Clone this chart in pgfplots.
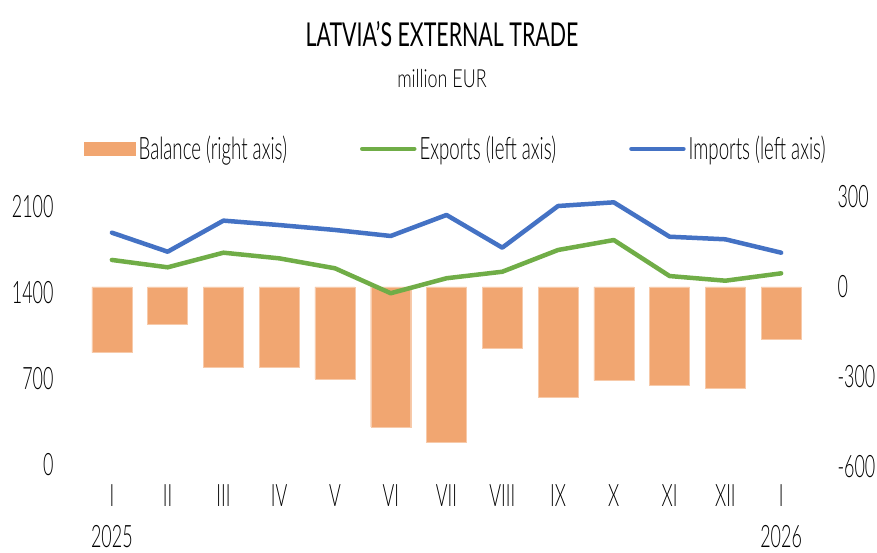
\documentclass[border=0pt]{standalone}
\usepackage{pgfplots}
\pgfplotsset{compat=1.18}
\usepackage{fontspec}
\setmainfont{Lato}[UprightFont=* Light, BoldFont=* Bold, FakeStretch=0.58]
\newfontfamily\titlefont{Lato}[FakeStretch=0.65]
\newfontfamily\subfont{Lato Light}[FakeStretch=0.72]
\newfontfamily\legfont{Lato Light}[FakeStretch=0.605]
\definecolor{balc}{RGB}{241,166,113}
\definecolor{expc}{RGB}{112,173,71}
\definecolor{impc}{RGB}{68,114,196}
\begin{document}
\begin{tikzpicture}[x=1bp,y=1bp]
\path[use as bounding box] (0,0) rectangle (877,553);
\node[font=\fontsize{33}{40}\titlefont] at (442,519) {LATVIA’S EXTERNAL TRADE};
\node[font=\fontsize{25}{30}\subfont] at (442,474) {million EUR};
\begin{axis}[at={(84bp,86bp)}, anchor=south west, scale only axis, width=725bp, height=270bp,
 xmin=-0.5, xmax=12.5, ymin=-600, ymax=300,
 axis line style={draw=none}, major tick length=0,
 ytick={-600,-300,0,300}, yticklabels={-600,-300,0,300}, yticklabel pos=right,
 xtick={0,...,12}, xticklabels={{I\\[5bp]2025},II,III,IV,V,VI,VII,VIII,IX,X,XI,XII,{I\\[5bp]2026}},
 xticklabel style={align=center, anchor=north, yshift=-14bp},
 yticklabel style={xshift=25bp},
 ticklabel style={font=\fontsize{31}{36}\selectfont},
]
\addplot[ybar, bar width=40bp, fill=balc, draw=balc!60!white] coordinates {
(0,-219) (1,-123) (2,-266) (3,-269) (4,-307) (5,-466) (6,-516) (7,-204) (8,-366) (9,-312) (10,-327) (11,-338) (12,-173)};
\end{axis}
\begin{axis}[at={(84bp,88bp)}, anchor=south west, scale only axis, width=725bp, height=258bp,
 xmin=-0.5, xmax=12.5, ymin=0, ymax=2100,
 axis line style={draw=none}, major tick length=0, clip=false,
 ytick={0,700,1400,2100}, yticklabels={0,700,1400,2100}, yticklabel pos=left,
 xtick=\empty,
 yticklabel style={xshift=-27bp},
 ticklabel style={font=\fontsize{31}{36}\selectfont},
 legend columns=3,
 legend style={draw=none, fill=none, at={(0,1.225)}, anchor=west, inner sep=0pt,
   font=\fontsize{31}{36}\legfont,
   nodes={inner sep=3bp},
   /tikz/every even column/.append style={column sep=70bp}},
]
\addlegendimage{legend image code/.code={\fill[balc] (0bp,-6.5bp) rectangle (51bp,6.5bp);}}
\addlegendentry{Balance (right axis)}
\addlegendimage{legend image code/.code={\draw[expc, line width=4.5bp, line cap=round] (2bp,0bp) -- (54bp,0bp);}}
\addlegendentry{Exports (left axis)}
\addlegendimage{legend image code/.code={\draw[impc, line width=4.5bp, line cap=round] (2bp,0bp) -- (54bp,0bp);}}
\addlegendentry{Imports (left axis)}
\addplot[expc, line width=4.5bp, line join=round, line cap=round, forget plot] coordinates {
(0,1669) (1,1609) (2,1728) (3,1682) (4,1601) (5,1398) (6,1520) (7,1573) (8,1750) (9,1831) (10,1538) (11,1500) (12,1560)};
\addplot[impc, line width=4.5bp, line join=round, line cap=round, forget plot] coordinates {
(0,1891) (1,1736) (2,1989) (3,1953) (4,1913) (5,1864) (6,2035) (7,1769) (8,2108) (9,2138) (10,1858) (11,1837) (12,1728)};
\end{axis}
\end{tikzpicture}
\end{document}
